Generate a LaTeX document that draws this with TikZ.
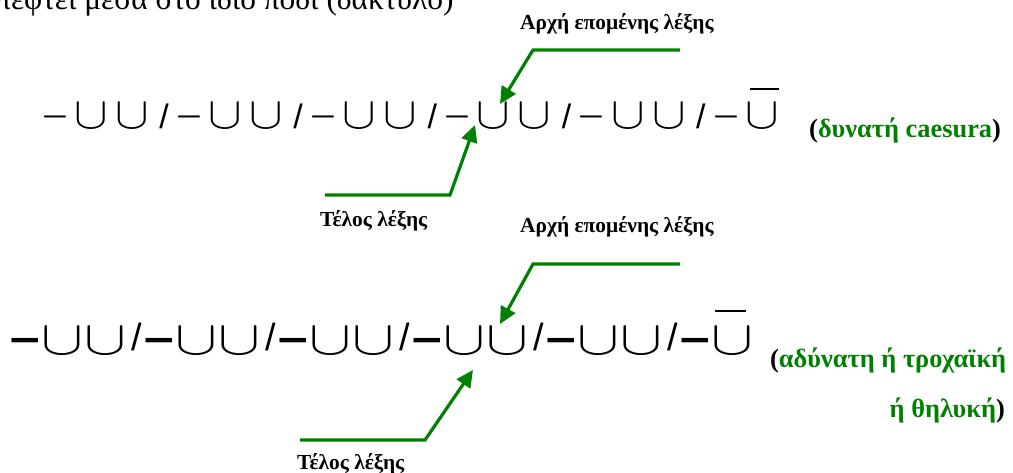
\RequirePackage{fix-cm}
\documentclass[tikz,border=0pt]{standalone}
\usepackage{fontspec}
\setmainfont{Liberation Serif}
\newfontfamily\symfont{DejaVu Sans}
\newfontfamily\slfont{Liberation Sans}
\usetikzlibrary{arrows.meta}
\definecolor{grn}{RGB}{0,128,0}
\begin{document}
\begin{tikzpicture}[x=1bp,y=-1bp,
  sym/.style={inner sep=0pt,outer sep=0pt},
  cupa/.style={sym,font=\fontsize{45}{45}\selectfont},
  cupb/.style={sym,font=\fontsize{48.5}{48.5}\selectfont},
  dasha/.style={sym,font=\fontsize{36}{36}\selectfont},
  dashb/.style={sym,font=\symfont\bfseries\fontsize{38}{38}\selectfont},
  slasha/.style={sym,font=\slfont\fontsize{34}{34}\selectfont},
  slashb/.style={sym,font=\slfont\fontsize{38}{38}\selectfont},
  lbl/.style={inner sep=0pt,anchor=base west,font=\bfseries\fontsize{21.5}{24}\selectfont},
  note/.style={inner sep=0pt,font=\bfseries\fontsize{26.5}{30}\selectfont},
  arr/.style={draw=grn,line width=3.2bp,-{Triangle[length=17bp,width=16bp]}},
  barline/.style={line width=1.8bp}]
\clip (0,0) rectangle (1013,473);
\useasboundingbox (0,0) rectangle (1013,473);
% cut-off line of text at the top
\node[inner sep=0pt,anchor=base west,font=\fontsize{31.5}{31.5}\selectfont] (top) at (-5,10) {πέφτει μέσα στο ίδιο πόδι (δάκτυλο)};
% row 1
\foreach \k in {0,...,5}{
  \pgfmathsetmacro{\d}{43+134.2*\k}
  \node[dasha] (ra\k) at (\d+12,116.5) {\scalebox{1}[1.4]{$-$}};
  \node[cupa] (rb\k) at (\d+48,116.5) {\scalebox{1.12}[1]{$\cup$}};
  \ifnum\k<5
    \node[cupa] (rc\k) at (\d+89,116.5) {\scalebox{1.12}[1]{$\cup$}};
    \node[slasha] (rd\k) at (\d+121,116) {/};
  \fi
}
\draw[barline] (750,89) -- (779,89);
% row 2
\foreach \k in {0,...,5}{
  \pgfmathsetmacro{\d}{12+134*\k}
  \node[dashb] (sa\k) at (\d+13.5,345) {\scalebox{1.12}[1]{−}};
  \node[cupb] (sb\k) at (\d+50.5,341.5) {\scalebox{1.3}[1]{$\cup$}};
  \ifnum\k<5
    \node[cupb] (sc\k) at (\d+93.5,341.5) {\scalebox{1.3}[1]{$\cup$}};
    \node[slashb] (sd\k) at (\d+124.5,337) {/};
  \fi
}
\draw[barline] (715,311) -- (746,311);
% notes
\node[note,anchor=base west] (n1) at (809,138) {(\textcolor{grn}{δυνατή caesura})};
\node[note,anchor=base west] (n2) at (770,368) {(\textcolor{grn}{αδύνατη ή τροχαϊκή}};
\node[note,anchor=base east] (n3) at (1005,417) {\textcolor{grn}{ή θηλυκή})};
% labels
\node[lbl] (l1) at (520,30) {Αρχή επομένης λέξης};
\node[lbl] (l2) at (320,227) {Τέλος λέξης};
\node[lbl] (l3) at (520,233) {Αρχή επομένης λέξης};
\node[lbl] (l4) at (297,469) {Τέλος λέξης};
% arrows
\coordinate (a1s) at (680,50); \coordinate (a1m) at (533,50); \coordinate (a1t) at (500,104);
\coordinate (a2s) at (325,195); \coordinate (a2m) at (450,195); \coordinate (a2t) at (475,125);
\coordinate (a3s) at (680,264); \coordinate (a3m) at (533,264); \coordinate (a3t) at (500,324);
\coordinate (a4s) at (300,440); \coordinate (a4m) at (425,440); \coordinate (a4t) at (473,370);
\draw[arr] (a1s) -- (a1m) -- (a1t);
\draw[arr] (a2s) -- (a2m) -- (a2t);
\draw[arr] (a3s) -- (a3m) -- (a3t);
\draw[arr] (a4s) -- (a4m) -- (a4t);
\end{tikzpicture}
\end{document}
